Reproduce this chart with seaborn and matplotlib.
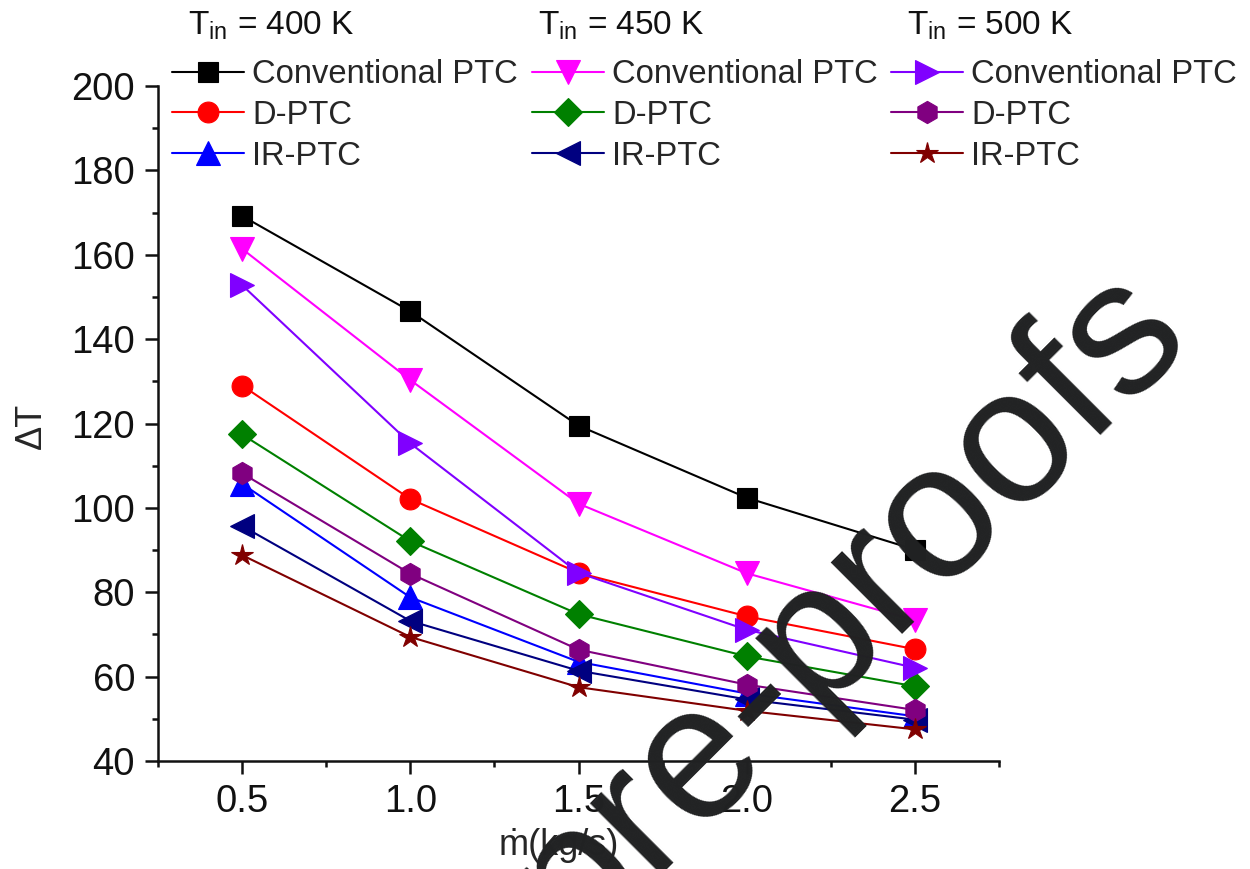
import matplotlib
matplotlib.use("Agg")
import matplotlib.pyplot as plt
import seaborn as sns
from matplotlib.ticker import MultipleLocator

# ---------------- data ----------------
m_flow = [0.5, 1.0, 1.5, 2.0, 2.5]

conv_400 = [169.2, 146.6, 119.5, 102.4, 90.1]
dptc_400 = [129.0, 102.1, 84.6, 74.3, 66.5]
irptc_400 = [105.7, 78.8, 63.5, 56.0, 50.6]

conv_450 = [161.4, 130.3, 101.0, 84.5, 73.4]
dptc_450 = [117.4, 92.1, 74.8, 64.8, 57.7]
irptc_450 = [95.7, 73.2, 61.4, 54.6, 49.8]

conv_500 = [152.8, 115.3, 84.6, 71.1, 62.1]
dptc_500 = [108.2, 84.4, 66.4, 58.1, 52.1]
irptc_500 = [88.8, 69.4, 57.5, 51.9, 47.5]

series_labels = ["Conventional PTC", "D-PTC", "IR-PTC"]
group_titles = [r"T$_{\mathrm{in}}$ = 400 K", r"T$_{\mathrm{in}}$ = 450 K", r"T$_{\mathrm{in}}$ = 500 K"]
x_ticks = [0.5, 1.0, 1.5, 2.0, 2.5]
y_ticks = [40, 60, 80, 100, 120, 140, 160, 180, 200]

groups = [
    [conv_400, dptc_400, irptc_400],
    [conv_450, dptc_450, irptc_450],
    [conv_500, dptc_500, irptc_500],
]
colors = [
    ["#000000", "#ff0000", "#0000ff"],
    ["#ff00ff", "#008000", "#000080"],
    ["#8000ff", "#800080", "#800000"],
]
markers = [
    ["s", "o", "^"],
    ["v", "D", "<"],
    [">", "h", "*"],
]
msizes = [
    [15, 15, 17],
    [17, 14, 17],
    [17, 16, 16],
]

# ---------------- style ----------------
sns.set_style("ticks")
plt.rcParams["font.family"] = ["Liberation Sans", "DejaVu Sans"]
plt.rcParams["mathtext.fontset"] = "custom"
plt.rcParams["mathtext.rm"] = "Liberation Sans"
plt.rcParams["mathtext.it"] = "Liberation Sans:italic"
plt.rcParams["mathtext.bf"] = "Liberation Sans:bold"

W, H = 1250, 869
fig = plt.figure(figsize=(W / 100, H / 100), dpi=100)
ax = fig.add_axes([158 / W, 1 - 761 / H, (999 - 158) / W, (761 - 86) / H])

for g in range(3):
    for s in range(3):
        sns.lineplot(x=m_flow, y=groups[g][s], ax=ax, color=colors[g][s],
                     marker=markers[g][s], markersize=msizes[g][s],
                     markeredgecolor=colors[g][s], markeredgewidth=0.8,
                     linewidth=1.5, errorbar=None, legend=False,
                     label=series_labels[s])

ax.set_xlim(0.25, 2.75)
ax.set_ylim(40, 200)
ax.set_xticks(x_ticks)
ax.set_xticklabels([f"{v:.1f}" for v in x_ticks])
ax.set_yticks(y_ticks)
ax.set_yticklabels([str(v) for v in y_ticks])
ax.xaxis.set_minor_locator(MultipleLocator(0.25))
ax.yaxis.set_minor_locator(MultipleLocator(10))

for side in ["top", "right"]:
    ax.spines[side].set_visible(False)
for side in ["left", "bottom"]:
    ax.spines[side].set_linewidth(1.8)
    ax.spines[side].set_color("#111111")

ax.tick_params(axis="both", which="major", direction="out", length=9.5, width=1.8,
               labelsize=27.5, pad=7, colors="#111111")
ax.tick_params(axis="both", which="minor", direction="out", length=4.5, width=1.8,
               colors="#111111")

ax.set_ylabel("ΔT", fontsize=26)
ax.yaxis.set_label_coords(-0.13, 0.496)
ax.set_xlabel("ṁ(kg/s)", fontsize=26)
ax.xaxis.set_label_coords(0.476, -0.099)

# ---------------- legends ----------------
lines = ax.get_lines()
col_x = [172, 532, 891]
title_x = [188, 538, 907]
for g in range(3):
    fig.legend(handles=lines[3 * g:3 * g + 3], labels=series_labels,
               loc="upper left", bbox_to_anchor=(col_x[g] / W, 1 - 59 / H),
               frameon=False, fontsize=23.6, handlelength=2.2, handletextpad=0.25,
               labelspacing=0.3, borderpad=0, borderaxespad=0)
    fig.text(title_x[g] / W, 1 - 35 / H, group_titles[g], fontsize=24,
             ha="left", va="baseline", color="#111111")

# ---------------- watermark ----------------
fig.text(848 / W, 1 - 606 / H, "pre-proofs", fontsize=138, rotation=45,
         rotation_mode="anchor", ha="center", va="center", color="#212223",
         zorder=10)

fig.savefig("out.png", dpi=100)
